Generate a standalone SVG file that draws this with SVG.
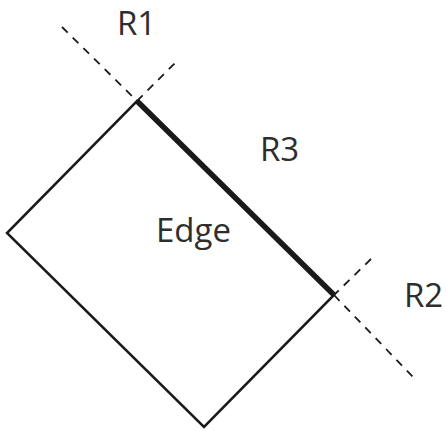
<svg xmlns="http://www.w3.org/2000/svg" width="446" height="431" viewBox="0 0 446 431">
<style>
.t{font-family:"Open Sans","Liberation Sans",sans-serif;font-size:33px;fill:#2e2e2e}
.thin{fill:none;stroke:#1a1a1a;stroke-width:2.5;stroke-linejoin:miter}
.dash{fill:none;stroke:#1a1a1a;stroke-width:1.8;stroke-dasharray:8,7}
</style>
<rect width="446" height="431" fill="#fff"/>
<g id="connectors">
<path class="dash" d="M62,27 L137,101 M137,101 L176,62"/>
<path class="dash" d="M371,259 L334,295 M334,295 L414,378"/>
</g>
<g id="rect">
<polygon class="thin" points="137,101 334,295 204,427 7,233"/>
<line x1="137" y1="101" x2="334" y2="295" stroke="#1a1a1a" stroke-width="5.5"/>
</g>
<g id="labels">
<text class="t" x="117" y="35">R1</text>
<text class="t" x="260" y="161">R3</text>
<text class="t" x="156" y="242">Edge</text>
<text class="t" x="404" y="307">R2</text>
</g>
</svg>
